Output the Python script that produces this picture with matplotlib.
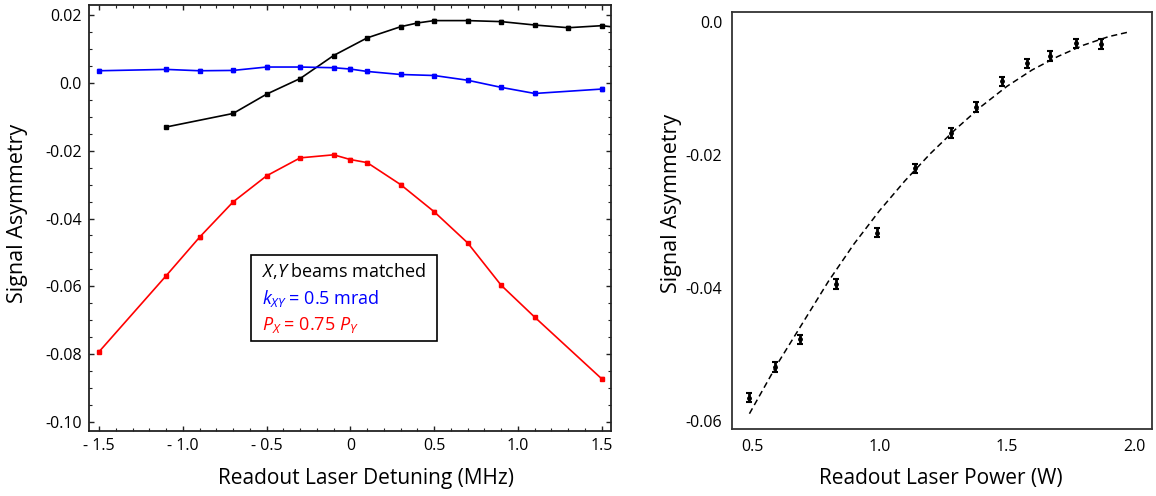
import numpy as np
import matplotlib
matplotlib.use('Agg')
import matplotlib.pyplot as plt
from matplotlib.patches import Rectangle
from matplotlib.ticker import MultipleLocator

plt.rcParams['font.family'] = ['Open Sans', 'DejaVu Sans']
plt.rcParams['mathtext.fontset'] = 'custom'
plt.rcParams['mathtext.rm'] = 'Open Sans'
plt.rcParams['mathtext.it'] = 'Open Sans:italic'

# left panel: asymmetry vs detuning
det_black = [-1.1, -0.7, -0.5, -0.3, -0.1, 0.1, 0.3, 0.4, 0.5, 0.7, 0.9, 1.1, 1.3, 1.5, 1.7]
asym_black = [-0.0130, -0.0090, -0.0033, 0.0013, 0.0081, 0.0133, 0.0166, 0.0177, 0.0184,
              0.0184, 0.0181, 0.0171, 0.0163, 0.0169, 0.0158]
err_black = 0.0004

det_blue = [-1.5, -1.1, -0.9, -0.7, -0.5, -0.3, -0.1, 0.0, 0.1, 0.3, 0.5, 0.7, 0.9, 1.1, 1.5]
asym_blue = [0.0036, 0.0040, 0.0036, 0.0037, 0.0047, 0.0047, 0.0045, 0.0041, 0.0034,
             0.0025, 0.0022, 0.0008, -0.0013, -0.0031, -0.0018]
err_blue = 0.0005

det_red = [-1.5, -1.1, -0.9, -0.7, -0.5, -0.3, -0.1, 0.0, 0.1, 0.3, 0.5, 0.7, 0.9, 1.1, 1.5]
asym_red = [-0.0793, -0.0569, -0.0455, -0.0351, -0.0274, -0.0221, -0.0212, -0.0226, -0.0235,
            -0.0300, -0.0380, -0.0472, -0.0597, -0.0691, -0.0873]
err_red = 0.0004

left_xticks = [-1.5, -1.0, -0.5, 0.0, 0.5, 1.0, 1.5]
left_xlabels = ['- 1.5', '- 1.0', '- 0.5', '0', '0.5', '1.0', '1.5']
left_yticks = [0.02, 0.0, -0.02, -0.04, -0.06, -0.08, -0.10]
left_ylabels = ['0.02', '0.0', '-0.02', '-0.04', '-0.06', '-0.08', '-0.10']

# right panel: asymmetry vs power
power = [0.49, 0.59, 0.69, 0.83, 0.99, 1.14, 1.28, 1.38, 1.48, 1.58, 1.67, 1.77, 1.87]
asym_power = [-0.0565, -0.0519, -0.0477, -0.0394, -0.0317, -0.0220, -0.0167, -0.0128,
              -0.0089, -0.0062, -0.0051, -0.0032, -0.0033]
err_power = 0.0007

fit_power = [0.49, 0.6, 0.7, 0.8, 0.9, 1.0, 1.1, 1.2, 1.3, 1.4, 1.5, 1.6, 1.7, 1.8, 1.9, 1.98]
fit_asym = [-0.0589, -0.0514, -0.0452, -0.0390, -0.0334, -0.0284, -0.0239, -0.0198,
            -0.0161, -0.0127, -0.0097, -0.0072, -0.0052, -0.0035, -0.0022, -0.0015]

right_xticks = [0.5, 1.0, 1.5, 2.0]
right_xlabels = ['0.5', '1.0', '1.5', '2.0']
right_yticks = [0.0, -0.02, -0.04, -0.06]
right_ylabels = ['0.0', '-0.02', '-0.04', '-0.06']

fig = plt.figure(figsize=(11.56, 4.96), dpi=100)
ax1 = fig.add_axes([0.0770, 0.1310, 0.4515, 0.8589])
ax2 = fig.add_axes([0.6332, 0.1351, 0.3633, 0.8407])

for x, y, e, c in [(det_black, asym_black, err_black, 'black'),
                   (det_blue, asym_blue, err_blue, '#0000ff'),
                   (det_red, asym_red, err_red, '#ff0000')]:
    ax1.errorbar(x, y, yerr=e, color=c, lw=1.2, marker='s', ms=2.5,
                 capsize=1.5, elinewidth=1.2, capthick=1.0)

ax1.set_xlim(-1.56, 1.555)
ax1.set_ylim(-0.1027, 0.023)
ax1.set_xticks(left_xticks)
ax1.set_xticklabels(left_xlabels)
ax1.set_yticks(left_yticks)
ax1.set_yticklabels(left_ylabels)
ax1.xaxis.set_minor_locator(MultipleLocator(0.1))
ax1.yaxis.set_minor_locator(MultipleLocator(0.005))
ax1.tick_params(which='both', direction='in', top=True, right=True, labelsize=11.5, pad=5, color='#222222')
ax1.tick_params(which='major', length=3.5, width=1)
ax1.tick_params(which='minor', length=2, width=0.8)
for s in ax1.spines.values():
    s.set_linewidth(1.3)
    s.set_color('#222222')

ax1.set_xlabel('Readout Laser Detuning (MHz)', fontsize=15)
ax1.set_ylabel('Signal Asymmetry', fontsize=15.5)
ax1.xaxis.set_label_coords(0.53, -0.087)
ax1.yaxis.set_label_coords(-0.117, 0.51)

# annotation box
ax1.add_patch(Rectangle((0.310, 0.211), 0.357, 0.202, transform=ax1.transAxes,
                        fill=False, ec='black', lw=1.2, zorder=5))
ax1.text(0.331, 0.376, r'$X$,$Y$ beams matched', transform=ax1.transAxes,
         color='black', fontsize=13, va='center')
ax1.text(0.331, 0.312, r'$k_{XY}$ = 0.5 mrad', transform=ax1.transAxes,
         color='#0000ff', fontsize=13, va='center')
ax1.text(0.331, 0.250, r'$P_X$ = 0.75 $P_Y$', transform=ax1.transAxes,
         color='#ff0000', fontsize=13, va='center')

# right panel
ax2.plot(fit_power, fit_asym, color='black', ls=(0, (4, 2.5)), lw=1.1)
ax2.errorbar(power, asym_power, yerr=err_power, fmt='o', color='black', ms=2.5,
             capsize=2, elinewidth=2, capthick=1.5)
ax2.set_xlim(0.4215, 2.07)
ax2.set_ylim(-0.0612, 0.0015)
ax2.set_xticks(right_xticks)
ax2.set_xticklabels(right_xlabels)
ax2.set_yticks(right_yticks)
ax2.set_yticklabels(right_ylabels)
ax2.tick_params(length=0, labelsize=11.5, pad=7)
for s in ax2.spines.values():
    s.set_linewidth(1.3)
    s.set_color('#333333')
ax2.set_xlabel('Readout Laser Power (W)', fontsize=15)
ax2.set_ylabel('Signal Asymmetry', fontsize=15.5)
ax2.xaxis.set_label_coords(0.498, -0.094)
ax2.yaxis.set_label_coords(-0.119, 0.54)

fig.savefig('out.png', dpi=100)
